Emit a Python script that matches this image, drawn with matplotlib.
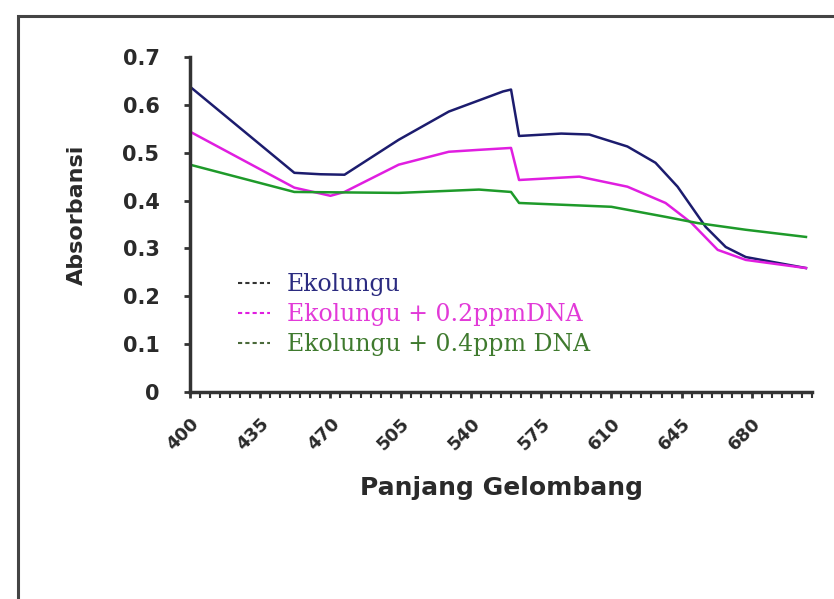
#!/usr/bin/env python3
# Absorbance spectra of Ekolungu with and without DNA

import matplotlib
matplotlib.use("Agg")
import matplotlib.pyplot as plt
from matplotlib.lines import Line2D
from matplotlib.patches import Rectangle
from matplotlib.transforms import ScaledTranslation

# Wavelength (nm) and absorbance
wl_blue = [400, 452, 465, 477, 504, 529, 556, 560, 564, 585, 599, 618, 632, 643, 650,
           657, 667, 677, 707]
abs_blue = [0.638, 0.458, 0.455, 0.454, 0.527, 0.586, 0.628, 0.632, 0.535, 0.540, 0.538,
            0.513, 0.479, 0.429, 0.387, 0.345, 0.303, 0.282, 0.259]

wl_pink = [400, 452, 470, 477, 504, 529, 544, 560, 564, 594, 618, 637, 650, 663, 677, 707]
abs_pink = [0.544, 0.427, 0.41, 0.418, 0.475, 0.502, 0.506, 0.51, 0.443, 0.45, 0.429,
            0.395, 0.353, 0.297, 0.276, 0.259]

wl_green = [400, 452, 504, 544, 560, 564, 610, 637, 653, 677, 707]
abs_green = [0.475, 0.418, 0.416, 0.423, 0.418, 0.395, 0.387, 0.366, 0.353, 0.339, 0.324]

series_names = ["Ekolungu", "Ekolungu + 0.2ppmDNA", "Ekolungu + 0.4ppm DNA"]
tick_labels = [400, 435, 470, 505, 540, 575, 610, 645, 680]

colors = ["#1c1c6e", "#e01ee0", "#1e9a2a"]
text_colors = ["#2b2b80", "#e23ad8", "#3f7a2e"]

fig = plt.figure(figsize=(8.34, 5.99), dpi=100)
ax = fig.add_axes([190 / 834, 1 - 392 / 599, 622 / 834, 335 / 599])

# Outer frame of the original picture
fig.add_artist(Rectangle((18 / 834, -0.1), 1.2, 1 - 16 / 599 + 0.1,
                         transform=fig.transFigure, fill=False,
                         edgecolor="#444444", linewidth=2.2))

ax.plot(wl_blue, abs_blue, color=colors[0], linewidth=1.8)
ax.plot(wl_pink, abs_pink, color=colors[1], linewidth=1.8)
ax.plot(wl_green, abs_green, color=colors[2], linewidth=1.8)

ax.set_xlim(400, 710)
ax.set_ylim(0, 0.7)

for side in ("top", "right"):
    ax.spines[side].set_visible(False)
for side in ("left", "bottom"):
    ax.spines[side].set_linewidth(2.5)
    ax.spines[side].set_color("#333333")

ax.set_yticks([0, 0.1, 0.2, 0.3, 0.4, 0.5, 0.6, 0.7])
ax.set_yticklabels(["0", "0.1", "0.2", "0.3", "0.4", "0.5", "0.6", "0.7"],
                   fontsize=15, fontweight="bold", family="DejaVu Sans", color="#2a2a2a")
ax.set_xticks(tick_labels)
ax.set_xticklabels([str(t) for t in tick_labels], rotation=45, ha="right",
                   rotation_mode="anchor", fontsize=13, fontweight="bold",
                   family="DejaVu Sans", color="#2a2a2a")
# nudge the rotated labels a bit to the left, as in the original
shift = ScaledTranslation(-0.13, 0, fig.dpi_scale_trans)
for lbl in ax.get_xticklabels():
    lbl.set_transform(lbl.get_transform() + shift)
ax.set_xticks(range(400, 711, 5), minor=True)
ax.tick_params(axis="y", which="major", direction="out", length=4, width=2,
               color="#333333", pad=18)
ax.tick_params(axis="x", which="major", direction="out", length=4, width=2,
               color="#333333", pad=12)
ax.tick_params(axis="x", which="minor", direction="out", length=4, width=1.5, color="#333333")

ax.set_ylabel("Absorbansi", fontsize=16, fontweight="bold", family="DejaVu Sans",
              color="#2a2a2a")
ax.yaxis.set_label_coords(-0.166, 0.528)
ax.set_xlabel("Panjang Gelombang", fontsize=18, fontweight="bold", family="DejaVu Sans",
              color="#2a2a2a")
ax.xaxis.set_label_coords(0.5, -0.25)

handles = [Line2D([], [], color=c, linestyle=(0, (2, 1.5)), linewidth=1.5)
           for c in ["#333333", colors[1], "#4a6a3a"]]
leg = ax.legend(handles, series_names, loc="upper left", bbox_to_anchor=(0.077, 0.355),
                frameon=False, handlelength=1.36, handletextpad=0.72, labelspacing=0.29,
                borderpad=0, borderaxespad=0,
                prop={"family": "DejaVu Serif", "size": 17})
for txt, c in zip(leg.get_texts(), text_colors):
    txt.set_color(c)

fig.savefig("out.png", dpi=100)
